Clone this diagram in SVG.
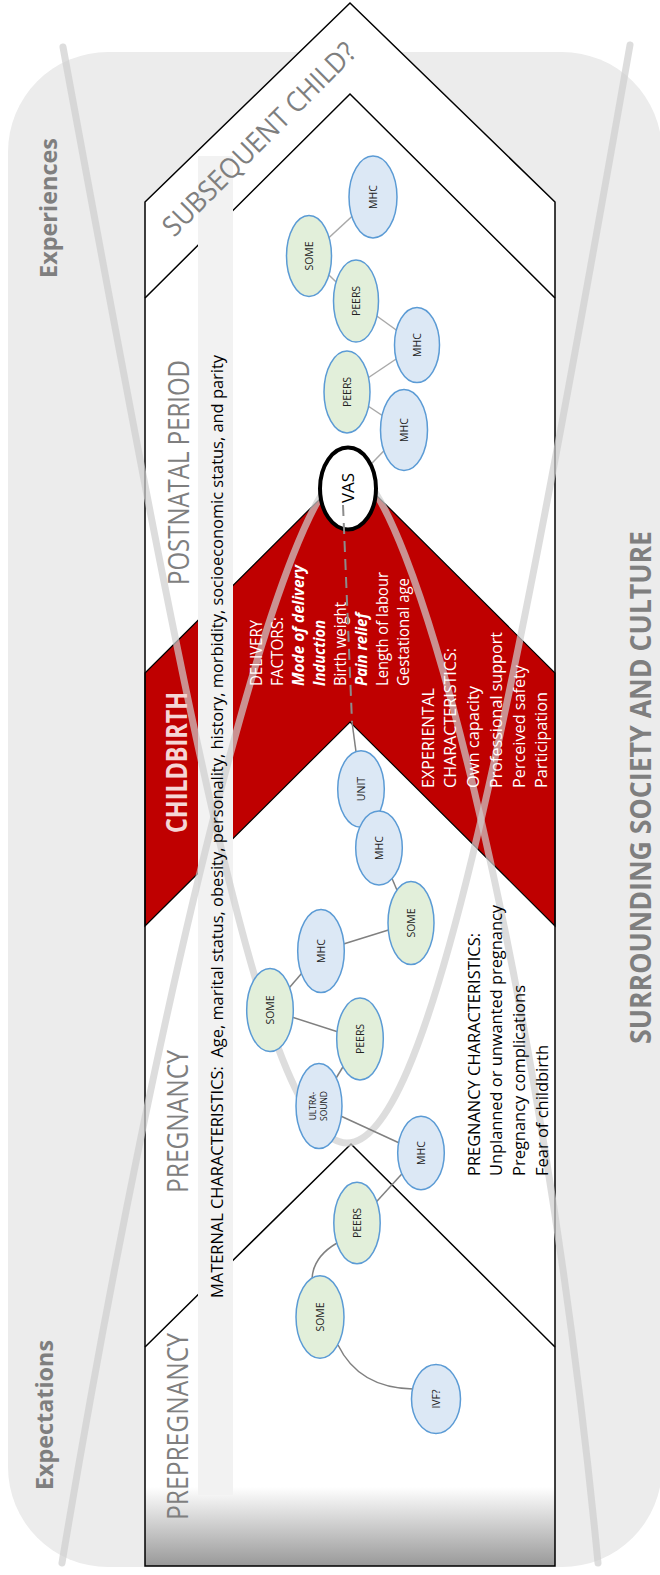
<svg xmlns="http://www.w3.org/2000/svg" width="660" height="1575" viewBox="0 0 660 1575">
<style>
text{font-family:"Open Sans","Liberation Sans",sans-serif}
.lbl{fill:#7f7f7f;font-size:29px}
.side{fill:#7f7f7f;font-size:24px;font-weight:bold}
.wt{fill:#ffffff;font-size:16.5px}
.bi{font-weight:bold;font-style:italic}
.bt{fill:#000000;font-size:16.5px}
.ln{fill:none;stroke:#000;stroke-width:1.5}
.crv{fill:none;stroke:#cfcfcf;stroke-opacity:0.7;stroke-width:7;stroke-linecap:round}
.eb{fill:#dce8f5;stroke:#5b9bd5;stroke-width:1.5}
.eg{fill:#e2efda;stroke:#5b9bd5;stroke-width:1.5}
.nt{fill:#222;font-size:10.5px;text-anchor:middle}
.e1{stroke:#a9a9a9;stroke-width:1.5;fill:none}
.e2{stroke:#808080;stroke-width:1.5;fill:none}
</style>
<defs>
<linearGradient id="fade" x1="0" y1="0" x2="0" y2="1">
<stop offset="0" stop-color="#ffffff"/>
<stop offset="1" stop-color="#999999"/>
</linearGradient>
</defs>
<rect x="8" y="52" width="654" height="1515" rx="100" ry="100" fill="#ececec"/>
<g id="frame">
<polygon points="145,202 350,3 555,202 555,1566 145,1566" fill="#ffffff"/>
<rect x="145" y="1487" width="410" height="79" fill="url(#fade)"/>
<polygon points="145,673 350,469 555,673 555,926 350,722 145,926" fill="#bf0000" stroke="#000" stroke-width="1.2"/>
<polygon class="ln" points="145,202 350,3 555,202 555,1566 145,1566 145,202"/>
<polyline class="ln" points="145,298 350,94 555,298"/>
<polyline class="ln" points="145,1347 351,1144 555,1347"/>
<rect x="198" y="156" width="35" height="1339" fill="#f2f2f2"/>
</g>
<g id="curves">
<path class="crv" d="M63,47 C192,747 267,1143 347,1143 C427,1143 507,745 630,45"/>
<path class="crv" d="M62,1563 C162,963 289,469 349,469 C409,469 540,963 598,1563"/>
</g>
<g id="labels">
<text class="side" transform="translate(57,278) rotate(-90)" textLength="140" lengthAdjust="spacingAndGlyphs">Experiences</text>
<text class="side" transform="translate(53,1490) rotate(-90)" textLength="150" lengthAdjust="spacingAndGlyphs">Expectations</text>
<text class="side" style="font-size:28px" transform="translate(651,1044) rotate(-90)" textLength="513" lengthAdjust="spacingAndGlyphs">SURROUNDING SOCIETY AND CULTURE</text>
<text class="lbl" style="font-size:28px" text-anchor="middle" transform="translate(266,146) rotate(-45)" textLength="260" lengthAdjust="spacingAndGlyphs">SUBSEQUENT CHILD?</text>
<text class="lbl" transform="translate(189,585) rotate(-90)" textLength="225" lengthAdjust="spacingAndGlyphs">POSTNATAL PERIOD</text>
<text class="lbl" style="fill:#f5d5d5;font-weight:bold" transform="translate(187,833) rotate(-90)" textLength="141" lengthAdjust="spacingAndGlyphs">CHILDBIRTH</text>
<text class="lbl" transform="translate(188,1193) rotate(-90)" textLength="143" lengthAdjust="spacingAndGlyphs">PREGNANCY</text>
<text class="lbl" transform="translate(188,1520) rotate(-90)" textLength="187" lengthAdjust="spacingAndGlyphs">PREPREGNANCY</text>
<text class="bt" style="font-size:16.5px" transform="translate(223,1298) rotate(-90)" textLength="943" lengthAdjust="spacingAndGlyphs">MATERNAL CHARACTERISTICS:&#160; Age, marital status, obesity, personality, history, morbidity, socioeconomic status, and parity</text>
<text class="wt" transform="translate(262,686) rotate(-90)" textLength="66" lengthAdjust="spacingAndGlyphs">DELIVERY</text>
<text class="wt" transform="translate(283,686) rotate(-90)" textLength="69" lengthAdjust="spacingAndGlyphs">FACTORS:</text>
<text class="wt bi" transform="translate(304,686) rotate(-90)" textLength="121" lengthAdjust="spacingAndGlyphs">Mode of delivery</text>
<text class="wt bi" transform="translate(325,686) rotate(-90)" textLength="66" lengthAdjust="spacingAndGlyphs">Induction</text>
<text class="wt" transform="translate(346,686) rotate(-90)" textLength="84" lengthAdjust="spacingAndGlyphs">Birth weight</text>
<text class="wt bi" transform="translate(367,686) rotate(-90)" textLength="73" lengthAdjust="spacingAndGlyphs">Pain relief</text>
<text class="wt" transform="translate(388,686) rotate(-90)" textLength="114" lengthAdjust="spacingAndGlyphs">Length of labour</text>
<text class="wt" transform="translate(409,686) rotate(-90)" textLength="108" lengthAdjust="spacingAndGlyphs">Gestational age</text>
<text class="wt" transform="translate(434,788) rotate(-90)" textLength="100" lengthAdjust="spacingAndGlyphs">EXPERIENTAL</text>
<text class="wt" transform="translate(456,788) rotate(-90)" textLength="140" lengthAdjust="spacingAndGlyphs">CHARACTERISTICS:</text>
<text class="wt" transform="translate(479,788) rotate(-90)" textLength="102" lengthAdjust="spacingAndGlyphs">Own capacity</text>
<text class="wt" transform="translate(502,788) rotate(-90)" textLength="156" lengthAdjust="spacingAndGlyphs">Professional support</text>
<text class="wt" transform="translate(525,788) rotate(-90)" textLength="123" lengthAdjust="spacingAndGlyphs">Perceived safety</text>
<text class="wt" transform="translate(547,788) rotate(-90)" textLength="96" lengthAdjust="spacingAndGlyphs">Participation</text>
<text class="bt" transform="translate(480,1176) rotate(-90)" textLength="243" lengthAdjust="spacingAndGlyphs">PREGNANCY CHARACTERISTICS:</text>
<text class="bt" transform="translate(502,1176) rotate(-90)" textLength="271" lengthAdjust="spacingAndGlyphs">Unplanned or unwanted pregnancy</text>
<text class="bt" transform="translate(525,1176) rotate(-90)" textLength="191" lengthAdjust="spacingAndGlyphs">Pregnancy complications</text>
<text class="bt" transform="translate(548,1176) rotate(-90)" textLength="131" lengthAdjust="spacingAndGlyphs">Fear of childbirth</text>
</g>
<g id="connectors">
<line class="e1" x1="373" y1="197" x2="309" y2="256"/>
<line class="e1" x1="309" y1="256" x2="356" y2="301"/>
<line class="e1" x1="356" y1="301" x2="417" y2="345"/>
<line class="e1" x1="417" y1="345" x2="347" y2="392"/>
<line class="e1" x1="347" y1="392" x2="404" y2="430"/>
<line class="e1" x1="404" y1="430" x2="348" y2="488"/>
<line class="e2" x1="352" y1="722" x2="361" y2="789"/>
<line class="e2" x1="361" y1="789" x2="379" y2="848"/>
<line class="e2" x1="379" y1="848" x2="411" y2="923"/>
<line class="e2" x1="411" y1="923" x2="321" y2="951"/>
<line class="e2" x1="321" y1="951" x2="270" y2="1010"/>
<line class="e2" x1="270" y1="1010" x2="360" y2="1039"/>
<line class="e2" x1="360" y1="1039" x2="319" y2="1106"/>
<line class="e2" x1="319" y1="1106" x2="421" y2="1153"/>
<line class="e2" x1="421" y1="1153" x2="357" y2="1223"/>
<path class="e2" d="M337,1243 Q313,1257 312,1279"/>
<path class="e2" d="M338,1345 Q359,1388 413,1389"/>
</g>
<g id="n-mhc1"><ellipse class="eb" cx="373" cy="197" rx="24" ry="41"/><text class="nt" transform="translate(373,197) rotate(-90)" dy="3.7">MHC</text></g>
<g id="n-some1"><ellipse class="eg" cx="309" cy="256" rx="22.5" ry="40.5"/><text class="nt" transform="translate(309,256) rotate(-90)" dy="3.7">SOME</text></g>
<g id="n-peers1"><ellipse class="eg" cx="356" cy="301" rx="22.5" ry="41"/><text class="nt" transform="translate(356,301) rotate(-90)" dy="3.7">PEERS</text></g>
<g id="n-mhc2"><ellipse class="eb" cx="417" cy="345" rx="22.5" ry="37.5"/><text class="nt" transform="translate(417,345) rotate(-90)" dy="3.7">MHC</text></g>
<g id="n-peers2"><ellipse class="eg" cx="347" cy="392" rx="23" ry="41"/><text class="nt" transform="translate(347,392) rotate(-90)" dy="3.7">PEERS</text></g>
<g id="n-mhc3"><ellipse class="eb" cx="404" cy="430" rx="23.5" ry="40.5"/><text class="nt" transform="translate(404,430) rotate(-90)" dy="3.7">MHC</text></g>
<g id="n-vas"><ellipse cx="348" cy="488.5" rx="28" ry="41" fill="#fff" stroke="#000" stroke-width="4"/><text transform="translate(348,488) rotate(-90)" dy="5.5" text-anchor="middle" font-size="16" fill="#000" textLength="30" lengthAdjust="spacingAndGlyphs">VAS</text></g>
<g id="n-unit"><ellipse class="eb" cx="361" cy="789" rx="23.3" ry="38.3"/><text class="nt" transform="translate(361,789) rotate(-90)" dy="3.7">UNIT</text></g>
<g id="n-mhc4"><ellipse class="eb" cx="379" cy="848" rx="23.3" ry="37"/><text class="nt" transform="translate(379,848) rotate(-90)" dy="3.7">MHC</text></g>
<g id="n-some2"><ellipse class="eg" cx="411" cy="923" rx="23" ry="41.5"/><text class="nt" transform="translate(411,923) rotate(-90)" dy="3.7">SOME</text></g>
<g id="n-mhc5"><ellipse class="eb" cx="321" cy="951" rx="23.3" ry="41.5"/><text class="nt" transform="translate(321,951) rotate(-90)" dy="3.7">MHC</text></g>
<g id="n-some3"><ellipse class="eg" cx="270" cy="1010" rx="23.3" ry="41.5"/><text class="nt" transform="translate(270,1010) rotate(-90)" dy="3.7">SOME</text></g>
<g id="n-peers3"><ellipse class="eg" cx="360" cy="1039" rx="23.3" ry="41"/><text class="nt" transform="translate(360,1039) rotate(-90)" dy="3.7">PEERS</text></g>
<g id="n-ultrasound"><ellipse class="eb" cx="319" cy="1106" rx="23" ry="42.5"/><text class="nt" style="font-size:8.5px" transform="translate(319,1106) rotate(-90)"><tspan x="0" y="-3">ULTRA-</tspan><tspan x="0" y="7.5">SOUND</tspan></text></g>
<g id="n-mhc6"><ellipse class="eb" cx="421" cy="1153" rx="23.3" ry="36.7"/><text class="nt" transform="translate(421,1153) rotate(-90)" dy="3.7">MHC</text></g>
<g id="n-peers4"><ellipse class="eg" cx="357" cy="1223" rx="23.2" ry="40.7"/><text class="nt" transform="translate(357,1223) rotate(-90)" dy="3.7">PEERS</text></g>
<g id="n-some4"><ellipse class="eg" cx="320" cy="1317" rx="24" ry="41.3"/><text class="nt" transform="translate(320,1317) rotate(-90)" dy="3.7">SOME</text></g>
<g id="n-ivf"><ellipse class="eb" cx="436" cy="1399" rx="24.5" ry="34.5"/><text class="nt" transform="translate(436,1399) rotate(-90)" dy="3.7">IVF?</text></g>
<g id="vas-link"><line x1="343" y1="505" x2="352" y2="722" stroke="#8c8c8c" stroke-width="2" stroke-dasharray="11 7"/></g>
</svg>
